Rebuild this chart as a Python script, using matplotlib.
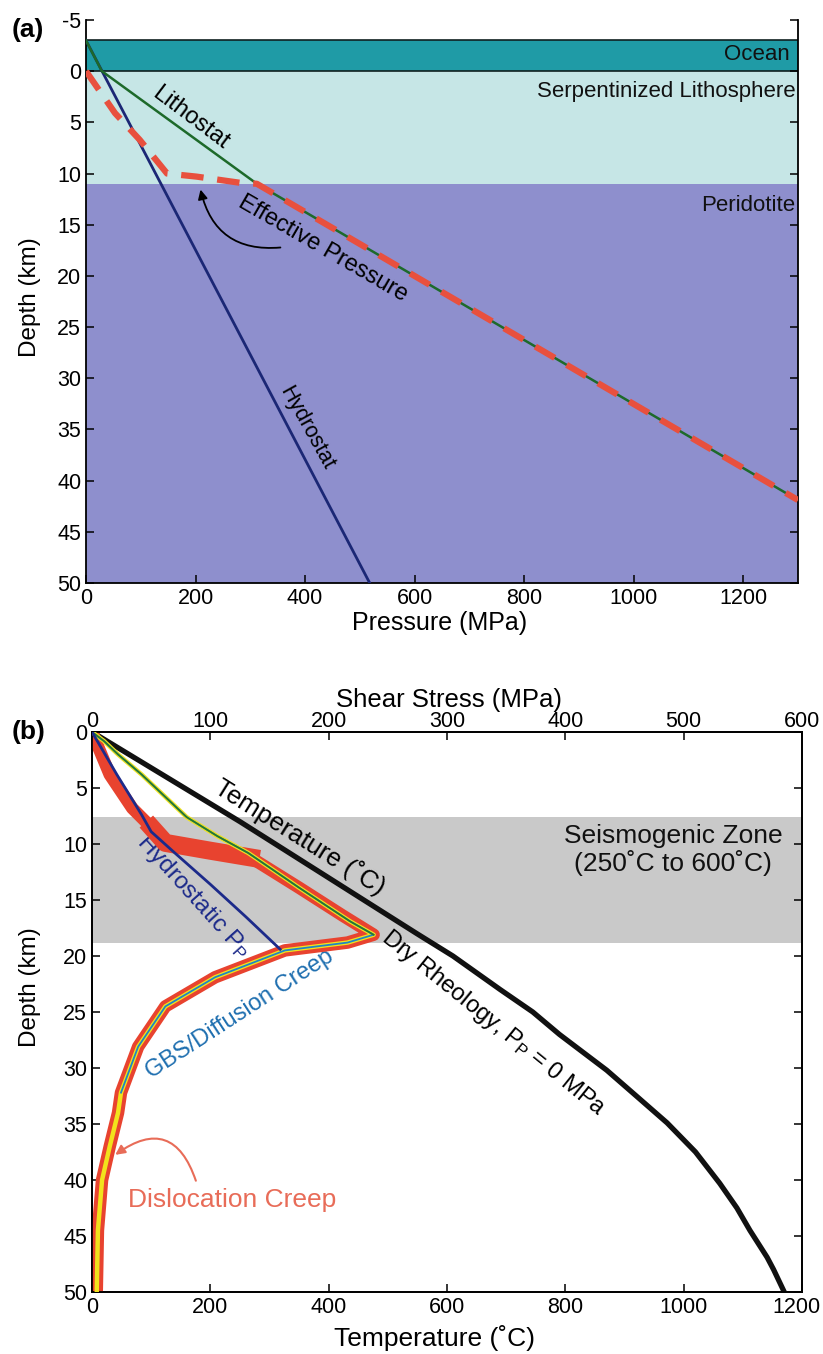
import matplotlib
matplotlib.use('Agg')
import matplotlib.pyplot as plt
from matplotlib.transforms import ScaledTranslation

plt.rcParams['font.family'] = ['Liberation Sans', 'DejaVu Sans']
plt.rcParams['mathtext.fontset'] = 'custom'
plt.rcParams['mathtext.rm'] = 'Liberation Sans'
plt.rcParams['mathtext.it'] = 'Liberation Sans:italic'
plt.rcParams['axes.unicode_minus'] = False

# ---------------- data: panel (a) ----------------
layer_names = ['Ocean', 'Serpentinized Lithosphere', 'Peridotite']
layer_top = [-3, 0, 11]
layer_bottom = [0, 11, 50]

hydro_P = [0, 518]
hydro_z = [-3, 50]
litho_P = [0, 29, 312, 1300]
litho_z = [-3, 0, 11, 41.9]
eff_P = [0, 53, 98, 148, 202, 281, 312, 1300]
eff_z = [0, 4.1, 6.7, 10, 10.3, 10.9, 11, 41.9]

a_xticks = [0, 200, 400, 600, 800, 1000, 1200]
a_yticks = [-5, 0, 5, 10, 15, 20, 25, 30, 35, 40, 45, 50]

# ---------------- data: panel (b) ----------------
seis_top, seis_bottom = 7.6, 18.8

temp_T = [0, 250, 549, 610, 690, 745, 790, 870, 920, 972, 1020, 1061, 1090, 1112, 1141, 1152, 1170]
temp_z = [0, 8, 18, 20, 23, 25, 27, 30.2, 32.5, 34.9, 37.5, 40.3, 42.5, 44.5, 46.9, 48, 50]

hydroP_S = [0, 21, 42, 50, 70, 100, 130, 159]
hydroP_z = [0, 3.8, 7.4, 8.9, 10.8, 13.6, 16.5, 19.4]

green_S = [0, 10, 22, 42, 62, 80, 106, 132, 175, 218, 238]
green_z = [0, 0.8, 2, 3.8, 5.8, 7.6, 9.3, 10.8, 13.9, 16.9, 18.1]

gbs_S = [238, 216, 163, 104, 62, 39, 24.5]
gbs_z = [18.1, 18.8, 19.5, 21.9, 24.5, 28.1, 32.2]

disl_S = [24.5, 22, 15, 8.5, 5, 4]
disl_z = [32.2, 34, 37, 40, 44.5, 50]

red_up_S = [0, 15, 34, 51, 62, 100, 134, 175, 212, 238]
red_up_z = [0, 3.8, 6.8, 8.6, 9.9, 10.6, 11.2, 13.9, 16.4, 18.1]

b_xticks = [0, 200, 400, 600, 800, 1000, 1200]
b_top_ticks = [0, 100, 200, 300, 400, 500, 600]
b_yticks = [0, 5, 10, 15, 20, 25, 30, 35, 40, 45, 50]

# ---------------- figure ----------------
W, H = 823, 1354
fig = plt.figure(figsize=(W / 100, H / 100), dpi=100)

TICK_FS = 15.5

# ---------- panel (a) ----------
axA = fig.add_axes([86 / W, 1 - 583 / H, 712 / W, 563 / H])
layer_colors = ['#1f9ba6', '#c6e6e6', '#8e8fcd']
for top, bot, c in zip(layer_top, layer_bottom, layer_colors):
    axA.axhspan(top, bot, color=c, lw=0, zorder=0)
axA.axhline(layer_top[0], color='#102020', lw=1.2, zorder=1)
axA.axhline(layer_top[1], color='#102020', lw=1.2, zorder=1)

axA.plot(hydro_P, hydro_z, color='#1b2775', lw=2.0, zorder=3)
axA.plot(litho_P, litho_z, color='#1d6a2a', lw=1.8, zorder=3)
axA.plot(eff_P, eff_z, color='#e8503e', lw=4.5, dashes=(3.6, 2.2), zorder=4)

axA.set_xlim(0, 1300)
axA.set_ylim(50, -5)
axA.set_xticks(a_xticks)
axA.set_yticks(a_yticks)
axA.tick_params(axis='both', direction='in', length=6, width=1.1, labelsize=TICK_FS)
axA.tick_params(axis='y', right=True)
axA.tick_params(axis='x', top=False)
axA.spines['top'].set_visible(False)
for s in ['left', 'right', 'bottom']:
    axA.spines[s].set_linewidth(1.3)
axA.set_xlabel('Pressure (MPa)', fontsize=18)
axA.set_ylabel('Depth (km)', fontsize=17.5)
axA.xaxis.set_label_coords((440 - 86) / 712, -(611 - 583) / 563)
axA.yaxis.set_label_coords((41 - 86) / 712, (583 - 297) / 563)

axA.text(0.989, -1.6, layer_names[0], transform=axA.get_yaxis_transform(),
         ha='right', va='center', fontsize=16, color='#111111')
axA.text(0.996, 2.0, layer_names[1], transform=axA.get_yaxis_transform(),
         ha='right', va='center', fontsize=16, color='#111111')
axA.text(0.996, 13.1, layer_names[2], transform=axA.get_yaxis_transform(),
         ha='right', va='center', fontsize=16, color='#111111')

axA.text(190, 4.6, 'Lithostat', rotation=-37, ha='center', va='center',
         fontsize=17, rotation_mode='anchor')
axA.text(432, 17.3, 'Effective Pressure', rotation=-30, ha='center', va='center',
         fontsize=17, rotation_mode='anchor')
axA.text(403, 34.9, 'Hydrostat', rotation=-61, ha='center', va='center',
         fontsize=15.5, rotation_mode='anchor')
axA.annotate('', xy=(208, 11.3), xytext=(360, 17.2),
             arrowprops=dict(arrowstyle='-|>', color='black', lw=1.3,
                             mutation_scale=14,
                             connectionstyle='arc3,rad=-0.45'))

fig.text(12 / W, 1 - 30 / H, '(a)', fontsize=19, fontweight='bold',
         ha='left', va='center')

# ---------- panel (b) ----------
axB = fig.add_axes([92 / W, 1 - 1292 / H, 710 / W, 560 / H])
axB.axhspan(seis_top, seis_bottom, color='#c9c9c9', lw=0, zorder=0)
axB.plot(temp_T, temp_z, color='#111111', lw=3.8, zorder=5,
         solid_joinstyle='round')
axB.set_xlim(0, 1200)
axB.set_ylim(50, 0)
axB.set_xticks(b_xticks)
axB.set_yticks(b_yticks)
axB.tick_params(axis='both', direction='in', length=6, width=1.1, labelsize=TICK_FS)
axB.tick_params(axis='y', right=True)
axB.set_xlabel('Temperature (˚C)', fontsize=19)
axB.set_ylabel('Depth (km)', fontsize=17.5)
axB.xaxis.set_label_coords((434 - 92) / 710, -(1325 - 1292) / 560)
axB.yaxis.set_label_coords((41 - 92) / 710, (1292 - 987) / 560)

axS = axB.twiny()
axS.set_xlim(0, 600)
axS.set_xticks(b_top_ticks)
axS.tick_params(axis='x', direction='in', length=6, width=1.1, labelsize=TICK_FS, pad=0)
axS.set_xlabel('Shear Stress (MPa)', fontsize=18.5)
axS.xaxis.set_label_coords((449 - 92) / 710, 1 + (732 - 707) / 560)
for ax in (axB, axS):
    for s in ax.spines.values():
        s.set_linewidth(1.3)

# shift the last bottom tick label slightly left so it stays inside the figure
last = axB.get_xticklabels()[-1]
last.set_transform(last.get_transform() + ScaledTranslation(-0.06, 0, fig.dpi_scale_trans))

# red dislocation-creep band
red = '#e8432f'
axS.plot(red_up_S + gbs_S[1:] + disl_S[1:], red_up_z + gbs_z[1:] + disl_z[1:],
         color=red, lw=9, solid_joinstyle='round', solid_capstyle='round', zorder=2)
axS.plot(red_up_S[3:7], red_up_z[3:7], color=red, lw=13,
         solid_joinstyle='round', zorder=2)
# yellow / green / blue thin curves
axS.plot(green_S + gbs_S[1:] + disl_S[1:], green_z + gbs_z[1:] + disl_z[1:],
         color='#f2e21c', lw=3.2, zorder=3)
axS.plot(green_S + gbs_S[1:], green_z + gbs_z[1:], color='#1f86c4', lw=1.3, zorder=4)
axS.plot(green_S, green_z, color='#2a7a2a', lw=1.3, zorder=4)
axS.plot(hydroP_S, hydroP_z, color='#1c2a8a', lw=2.0, zorder=4)

# annotations panel (b)
axB.text(982, 10.5, 'Seismogenic Zone\n(250˚C to 600˚C)', ha='center', va='center',
         fontsize=19, linespacing=1.1, color='#111111')
axB.text(352, 9.4, 'Temperature (˚C)', rotation=-32, ha='center', va='center',
         fontsize=18.5, rotation_mode='anchor')
axB.text(679, 26.0, r'Dry Rheology, P$_\mathrm{P}$ = 0 MPa', rotation=-39,
         ha='center', va='center', fontsize=17, rotation_mode='anchor')
axB.text(171, 14.7, r'Hydrostatic P$_\mathrm{P}$', rotation=-48, ha='center',
         va='center', fontsize=17.5, color='#1c2a8a', rotation_mode='anchor')
axB.text(250, 25.2, 'GBS/Diffusion Creep', rotation=33, ha='center', va='center',
         fontsize=17, color='#1f6fb0', rotation_mode='anchor')
axB.text(237, 41.8, 'Dislocation Creep', ha='center', va='center',
         fontsize=19, color='#e86c58')
axB.annotate('', xy=(35.5, 37.9), xytext=(177, 40.3),
             arrowprops=dict(arrowstyle='-|>', color='#e86c58', lw=1.5,
                             mutation_scale=14,
                             connectionstyle='arc3,rad=0.7'))

fig.text(12 / W, 1 - 732 / H, '(b)', fontsize=19, fontweight='bold',
         ha='left', va='center')

fig.savefig('out.png', dpi=100)
